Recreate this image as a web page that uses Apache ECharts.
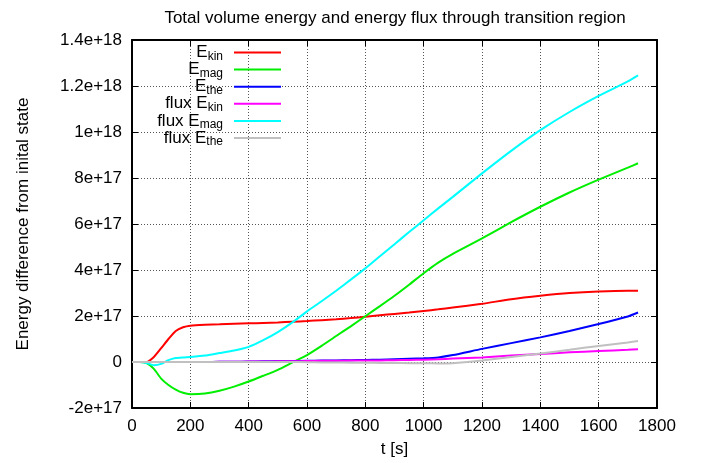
<!DOCTYPE html>
<html><head><meta charset="utf-8">
<script src="https://cdn.jsdelivr.net/npm/echarts@6/dist/echarts.min.js"></script>
<style>html,body{margin:0;padding:0;background:#fff}#c{width:712px;height:463px}</style>
</head><body><div id="c"></div>
<script>
// time [s]
const t = [0,25,50,75,100,125,150,175,200,250,300,350,400,450,500,550,600,650,700,750,800,850,900,950,1000,1050,1100,1200,1300,1400,1500,1600,1700,1735];
// values in units of 1e17
const UNIT = 1e17;
const Ekin = [0,0,0,0.22,0.6,1.0,1.35,1.51,1.58,1.62,1.64,1.66,1.68,1.70,1.72,1.75,1.78,1.82,1.86,1.91,1.97,2.03,2.09,2.15,2.22,2.29,2.37,2.53,2.73,2.88,3.0,3.07,3.1,3.1];
const Emag = [0,0,-0.05,-0.3,-0.72,-1.0,-1.2,-1.34,-1.4,-1.37,-1.25,-1.07,-0.85,-0.6,-0.34,-0.02,0.3,0.7,1.13,1.55,1.99,2.43,2.88,3.36,3.86,4.32,4.7,5.37,6.08,6.75,7.37,7.93,8.45,8.64];
const Ethe = [0,0,0,0,0,0,0,0,0,0,0.01,0.01,0.02,0.03,0.04,0.04,0.05,0.06,0.07,0.08,0.09,0.1,0.12,0.14,0.16,0.2,0.3,0.57,0.82,1.07,1.35,1.65,1.98,2.15];
const fluxEkin = [0,0,0,0,0,0,0,0,0,0,0.01,0.01,0.02,0.02,0.03,0.03,0.04,0.05,0.05,0.06,0.07,0.07,0.08,0.09,0.1,0.12,0.15,0.2,0.28,0.35,0.42,0.48,0.53,0.55];
const fluxEmag = [0,0,-0.04,-0.14,-0.08,0.08,0.17,0.2,0.22,0.28,0.39,0.5,0.66,0.95,1.3,1.72,2.2,2.64,3.1,3.58,4.07,4.6,5.12,5.65,6.16,6.68,7.18,8.2,9.18,10.08,10.87,11.57,12.2,12.46];
const fluxEthe = [0,0,0,0,0,0,0,0,0,0,0,0,0,0,0,0,-0.01,-0.02,-0.02,-0.03,-0.03,-0.04,-0.04,-0.05,-0.05,-0.06,-0.05,0.07,0.22,0.37,0.53,0.7,0.85,0.91];

const seriesDefs = [
  {name:'Ekin', main:'E', sub:'kin', data:Ekin, color:'#ff0000'},
  {name:'Emag', main:'E', sub:'mag', data:Emag, color:'#00ee00'},
  {name:'Ethe', main:'E', sub:'the', data:Ethe, color:'#0000ff'},
  {name:'flux Ekin', main:'flux E', sub:'kin', data:fluxEkin, color:'#ff00ff'},
  {name:'flux Emag', main:'flux E', sub:'mag', data:fluxEmag, color:'#00ffff'},
  {name:'flux Ethe', main:'flux E', sub:'the', data:fluxEthe, color:'#c0c0c0'}
];

const FONT = 'Liberation Sans';
const FS = 17;
function fmtY(v){
  if (Math.abs(v) < 1) return '0';
  const e = Math.floor(Math.log10(Math.abs(v)) + 1e-9);
  const m = parseFloat((v/Math.pow(10,e)).toFixed(3));
  return m + 'e+' + e;
}
const grid = {left:132, right:55, top:40, bottom:53};
const dotted = {show:true, lineStyle:{color:'#555', width:1, type:[1,2]}};

const legends = seriesDefs.map((s,i)=>({
  data:[s.name], orient:'vertical', right:712-281, top:44 + i*17.1,
  padding:0, itemWidth:47, itemHeight:2, icon:'rect', align:'right',
  selectedMode:false,
  formatter: name => { const d = seriesDefs.find(x=>x.name===name); return '{m|'+d.main+'}{s|'+d.sub+'}'; },
  textStyle:{ rich:{
    m:{fontFamily:FONT, fontSize:FS, color:'#000', lineHeight:20, verticalAlign:'middle'},
    s:{fontFamily:FONT, fontSize:12, color:'#000', lineHeight:12, verticalAlign:'bottom', padding:[0,6,0,0]}
  }}
}));

const chart = echarts.init(document.getElementById('c'), null, {renderer:'canvas'});
chart.setOption({
  animation:false,
  backgroundColor:'#fff',
  title:{text:'Total volume energy and energy flux through transition region', left:390, textAlign:'center', top:5,
    textStyle:{fontFamily:FONT, fontSize:FS, fontWeight:'normal', color:'#000'}},
  legend: legends,
  grid: grid,
  xAxis:[{
    type:'value', min:0, max:1800, interval:200, position:'bottom',
    name:'t [s]', nameLocation:'middle', nameGap:33,
    nameTextStyle:{fontFamily:FONT, fontSize:FS, color:'#000'},
    axisLine:{onZero:false, lineStyle:{color:'#000', width:2}},
    axisTick:{inside:true, length:6, lineStyle:{color:'#000', width:1}},
    axisLabel:{fontFamily:FONT, fontSize:FS, color:'#000', margin:10, formatter: v => String(v)},
    splitLine: dotted
  },{
    type:'value', min:0, max:1800, interval:200, position:'top',
    axisLine:{onZero:false, lineStyle:{color:'#000', width:2}},
    axisTick:{inside:true, length:6, lineStyle:{color:'#000', width:1}},
    axisLabel:{show:false}, splitLine:{show:false}
  }],
  yAxis:[{
    type:'value', min:-2e17, max:1.4e18, interval:2e17, position:'left',
    name:'Energy difference from inital state', nameLocation:'middle', nameGap:100, nameRotate:90,
    nameTextStyle:{fontFamily:FONT, fontSize:FS, color:'#000'},
    axisLine:{onZero:false, lineStyle:{color:'#000', width:2}},
    axisTick:{inside:true, length:6, lineStyle:{color:'#000', width:1}},
    axisLabel:{fontFamily:FONT, fontSize:FS, color:'#000', margin:10, formatter:fmtY},
    splitLine: dotted
  },{
    type:'value', min:-2e17, max:1.4e18, interval:2e17, position:'right',
    axisLine:{onZero:false, lineStyle:{color:'#000', width:2}},
    axisTick:{inside:true, length:6, lineStyle:{color:'#000', width:1}},
    axisLabel:{show:false}, splitLine:{show:false}
  }],
  series: seriesDefs.map(s=>({
    name:s.name, type:'line', xAxisIndex:0, yAxisIndex:0,
    data: t.map((x,i)=>[x, s.data[i]*UNIT]),
    showSymbol:false, symbol:'none', smooth:0.2,
    lineStyle:{color:s.color, width:2}, itemStyle:{color:s.color}
  }))
});
</script>
</body></html>
